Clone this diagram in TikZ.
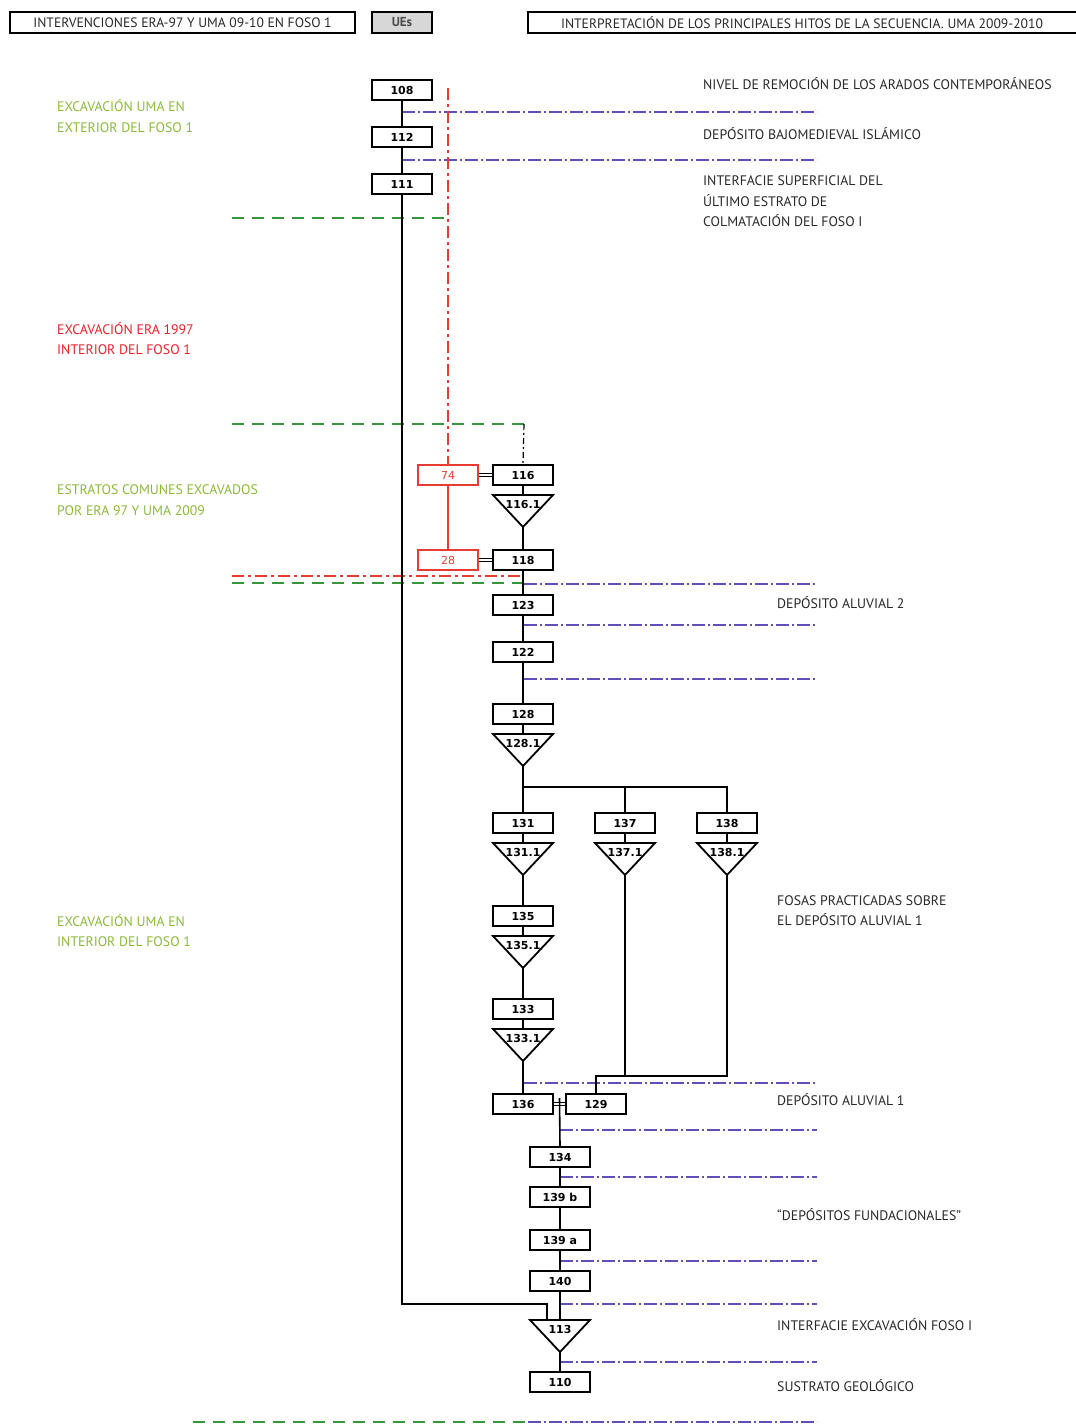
\documentclass[tikz,border=0pt]{standalone}
\usepackage{fontspec}
\setmainfont{PT Sans}
\newfontfamily\numfont{DejaVu Sans}
\usetikzlibrary{calc}
\definecolor{lblgreen}{RGB}{139,186,58}
\definecolor{lblred}{RGB}{229,35,41}
\definecolor{lblgray}{RGB}{40,40,40}
\definecolor{lnpurple}{RGB}{95,80,185}
\definecolor{lngreen}{RGB}{55,150,60}
\definecolor{lnred}{RGB}{232,60,50}
\definecolor{uefill}{RGB}{215,215,215}
\newcommand{\utri}[4]{%
  \coordinate (#1-top) at (#2,#3);
  \coordinate (#1-apex) at (#2,#3+32);
  \draw[trishape] (#2-30,#3) -- (#2+30,#3) -- (#2,#3+32) -- cycle;
  \node[trilbl] (#1) at (#2,#3+9) {#4};}
\begin{document}
\begin{tikzpicture}[x=1pt,y=-1pt,
  ue/.style={draw, line width=1.8pt, fill=white, minimum width=60pt, minimum height=20pt, inner sep=0pt,
    font=\numfont\bfseries\fontsize{11}{12}\selectfont},
  redue/.style={ue, draw=lnred, text=lnred, line width=1.3pt, font=\numfont\fontsize{11}{12}\selectfont},
  trishape/.style={draw, line width=1.8pt, fill=white, line join=miter},
  trilbl/.style={inner sep=0pt, font=\numfont\bfseries\fontsize{11}{12}\selectfont},
  conn/.style={line width=1.6pt},
  dbl/.style={double, line width=1pt, double distance=2.2pt},
  hdr/.style={draw, line width=2pt, minimum height=21pt, inner sep=0pt, text=lblgray,
    font=\fontsize{13.6}{15}\selectfont},
  lbl/.style={anchor=base west, inner sep=0pt, text=lblgray, font=\fontsize{13.8}{15}\selectfont},
  glbl/.style={lbl, text=lblgreen},
  rlbl/.style={lbl, text=lblred},
  pline/.style={draw=lnpurple, line width=1.3pt, dash pattern=on 13pt off 3pt on 2pt off 3pt},
  gline/.style={draw=lngreen, line width=1.4pt, dash pattern=on 12pt off 8pt},
  rline/.style={draw=lnred, line width=1.3pt, dash pattern=on 12pt off 4pt on 3pt off 4pt},
  kline/.style={draw=black, line width=1.2pt, dash pattern=on 6pt off 3pt on 2pt off 3pt},
]
\useasboundingbox (0,0) rectangle (1076,1425);

% ---------- headers
\node[hdr, minimum width=345pt] (h1) at (182.5,22.5) {INTERVENCIONES ERA-97 Y UMA 09-10 EN FOSO 1};
\node[hdr, minimum width=60pt, fill=uefill, font=\bfseries\fontsize{13}{15}\selectfont, text=black!70] (h2) at (402,22.5) {UEs};
\node[hdr, minimum width=552pt] (h3) at (804,22.5) {\hspace*{-4pt}INTERPRETACIÓN DE LOS PRINCIPALES HITOS DE LA SECUENCIA. UMA 2009-2010};

% ---------- level lines (drawn first, under nodes)
\draw[pline] (402,112) -- (817,112);
\draw[pline] (402,160) -- (817,160);
\draw[gline] (232,218) -- (448,218);
\coordinate (g2s) at (232,424);
\coordinate (g2e) at (524,424);
\draw[gline] (g2s) -- (g2e);
\draw[rline] (232,576) -- (522,576);
\draw[gline] (232,583) -- (522,583);
\draw[pline] (524,584) -- (817,584);
\draw[pline] (524,625) -- (817,625);
\draw[pline] (524,679) -- (817,679);
\draw[pline] (524,1083) -- (817,1083);
\draw[pline] (560,1130) -- (817,1130);
\draw[pline] (560,1177) -- (817,1177);
\draw[pline] (560,1261) -- (817,1261);
\draw[pline] (560,1304) -- (817,1304);
\draw[pline] (560,1362) -- (817,1362);
\draw[gline] (193,1422) -- (528,1422);
\draw[pline] (528,1422) -- (817,1422);

% ---------- nodes
\node[ue] (n108) at (402,90) {108};
\node[ue] (n112) at (402,137) {112};
\node[ue] (n111) at (402,184) {111};
\node[redue] (n74) at (448,475) {74};
\node[redue] (n28) at (448,560) {28};
\node[ue] (n116) at (523,475) {116};
\utri{t1161}{523}{495}{116.1}
\node[ue] (n118) at (523,560) {118};
\node[ue] (n123) at (523,605) {123};
\node[ue] (n122) at (523,652) {122};
\node[ue] (n128) at (523,714) {128};
\utri{t1281}{523}{734}{128.1}
\node[ue] (n131) at (523,823) {131};
\node[ue] (n137) at (625,823) {137};
\node[ue] (n138) at (727,823) {138};
\utri{t1311}{523}{843}{131.1}
\utri{t1371}{625}{843}{137.1}
\utri{t1381}{727}{843}{138.1}
\node[ue] (n135) at (523,916) {135};
\utri{t1351}{523}{936}{135.1}
\node[ue] (n133) at (523,1009) {133};
\utri{t1331}{523}{1029}{133.1}
\node[ue] (n136) at (523,1104) {136};
\node[ue] (n129) at (596,1104) {129};
\node[ue] (n134) at (560,1157) {134};
\node[ue] (n139b) at (560,1197) {139 b};
\node[ue] (n139a) at (560,1240) {139 a};
\node[ue] (n140) at (560,1281) {140};
\utri{t113}{560}{1320}{113}
\node[ue] (n110) at (560,1382) {110};

% ---------- connectors
\draw[conn] (n108.south) -- (n112.north);
\draw[conn] (n112.south) -- (n111.north);
\coordinate (lc) at (547,1304);
\draw[conn] (n111.south) |- (lc) -- (lc |- t113-top);

\coordinate (rtop) at (448,88);
\draw[rline] (rtop) -- (n74.north);
\draw[draw=lnred, line width=1.3pt] (n74.south) -- (n28.north);
\draw[dbl] (n74.east) -- (n116.west);
\draw[dbl] (n28.east) -- (n118.west);
\draw[kline] (g2e) -- (n116.north);

\draw[conn] (n116.south) -- (t1161-top);
\draw[conn] (t1161-apex) -- (n118.north);
\draw[conn] (n118.south) -- (n123.north);
\draw[conn] (n123.south) -- (n122.north);
\draw[conn] (n122.south) -- (n128.north);
\draw[conn] (n128.south) -- (t1281-top);
\coordinate (br) at (523,787);
\draw[conn] (t1281-apex) -- (n131.north);
\draw[conn] (br) -| (n138.north);
\draw[conn] (br -| n137.north) -- (n137.north);
\draw[conn] (n131.south) -- (t1311-top);
\draw[conn] (n137.south) -- (t1371-top);
\draw[conn] (n138.south) -- (t1381-top);
\draw[conn] (t1311-apex) -- (n135.north);
\draw[conn] (n135.south) -- (t1351-top);
\draw[conn] (t1351-apex) -- (n133.north);
\draw[conn] (n133.south) -- (t1331-top);
\draw[conn] (t1331-apex) -- (n136.north);
\coordinate (j138) at (727,1076);
\draw[conn] (n129.north) |- (j138) -- (t1381-apex);
\draw[conn] (t1371-apex) -- (t1371-apex |- j138);
\draw[dbl] (n136.east) -- (n129.west);
\coordinate (m136) at ($(n136.east)!0.5!(n129.west)$);
\draw[conn] ([yshift=6pt]m136) -- (n134.north);
\draw[conn] (n134.south) -- (n139b.north);
\draw[conn] (n139b.south) -- (n139a.north);
\draw[conn] (n139a.south) -- (n140.north);
\draw[conn] (n140.south) -- (t113-top);
\draw[conn] (t113-apex) -- (n110.north);

% ---------- right-hand labels
\node[lbl] (r1) at (703,89) {NIVEL DE REMOCIÓN DE LOS ARADOS CONTEMPORÁNEOS};
\node[lbl] (r2) at (703,139) {DEPÓSITO BAJOMEDIEVAL ISLÁMICO};
\node[lbl] (r3a) at (703,185) {INTERFACIE SUPERFICIAL DEL};
\node[lbl] (r3b) at (703,206) {ÚLTIMO ESTRATO DE};
\node[lbl] (r3c) at (703,226) {COLMATACIÓN DEL FOSO I};
\node[lbl] (r4) at (777,608) {DEPÓSITO ALUVIAL 2};
\node[lbl] (r5a) at (777,905) {FOSAS PRACTICADAS SOBRE};
\node[lbl] (r5b) at (777,925) {EL DEPÓSITO ALUVIAL 1};
\node[lbl] (r6) at (777,1105) {DEPÓSITO ALUVIAL 1};
\node[lbl] (r7) at (777,1220) {“DEPÓSITOS FUNDACIONALES”};
\node[lbl] (r8) at (777,1330) {INTERFACIE EXCAVACIÓN FOSO I};
\node[lbl] (r9) at (777,1391) {SUSTRATO GEOLÓGICO};

% ---------- left labels
\node[glbl] (l1a) at (57,111) {EXCAVACIÓN UMA EN};
\node[glbl] (l1b) at (57,132) {EXTERIOR DEL FOSO 1};
\node[rlbl] (l2a) at (57,334) {EXCAVACIÓN ERA 1997};
\node[rlbl] (l2b) at (57,354) {INTERIOR DEL FOSO 1};
\node[glbl] (l3a) at (57,494) {ESTRATOS COMUNES EXCAVADOS};
\node[glbl] (l3b) at (57,515) {POR ERA 97 Y UMA 2009};
\node[glbl] (l4a) at (57,926) {EXCAVACIÓN UMA EN};
\node[glbl] (l4b) at (57,946) {INTERIOR DEL FOSO 1};
\end{tikzpicture}
\end{document}
